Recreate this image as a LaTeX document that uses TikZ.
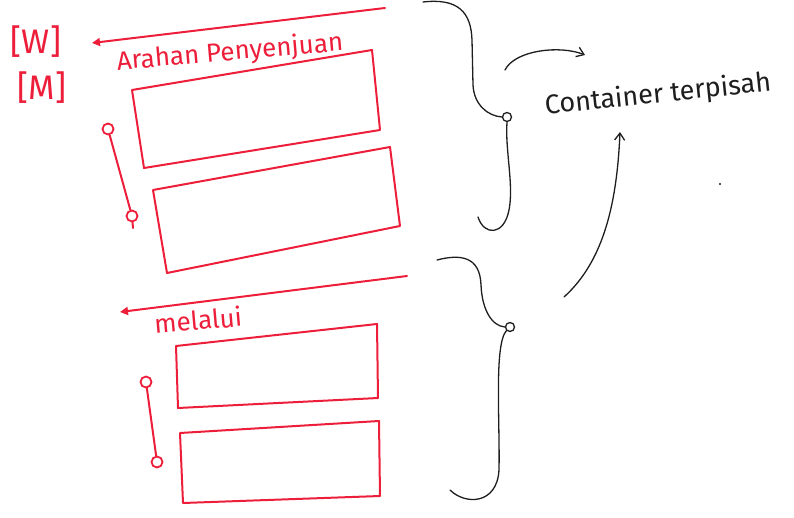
\documentclass[tikz,border=0pt]{standalone}
\usepackage{fontspec}
\setmainfont{Fira Sans}
\usetikzlibrary{arrows.meta}
\definecolor{pen}{RGB}{237,30,58}
\definecolor{ink}{RGB}{30,30,30}
\begin{document}
\begin{tikzpicture}[x=1pt,y=-1pt,
  redline/.style={draw=pen, line width=2pt, line cap=round, line join=round},
  inkline/.style={draw=ink, line width=1.3pt, line cap=round, line join=round},
  redtext/.style={text=pen, font=\fontsize{26}{30}\selectfont, inner sep=0pt},
  inktext/.style={text=ink, font=\fontsize{27}{31}\selectfont, inner sep=0pt},
  ring/.style={circle, draw=pen, line width=1.8pt, minimum size=11pt, inner sep=0pt},
  inkring/.style={circle, draw=ink, line width=1.3pt, minimum size=10pt, inner sep=0pt},
  tipL/.style={{Triangle[length=8pt,width=8pt]}-},
  tipR/.style={-{Straight Barb[length=7pt,width=10pt]}}
]
\useasboundingbox (0,0) rectangle (794,518);

% labels W / M
\node[redtext, font=\fontsize{34}{38}\selectfont] (w) at (36,42) {[W]};
\node[redtext, font=\fontsize{34}{38}\selectfont] (m) at (42,88) {[M]};

% ---- top group ----
\coordinate (l1a) at (92,43);
\coordinate (l1b) at (385,8);
\draw[redline, tipL] (l1a) -- (l1b);
\node[redtext, rotate=5] (t1) at (230,53) {Arahan Penyenjuan};

% box 1
\coordinate (b1tl) at (132,90); \coordinate (b1tr) at (372,50);
\coordinate (b1br) at (380,130); \coordinate (b1bl) at (144,168);
\draw[redline] (b1tl) -- (b1tr) -- (b1br) -- (b1bl) -- cycle;
% box 2
\coordinate (b2tl) at (153,190); \coordinate (b2tr) at (390,147);
\coordinate (b2br) at (400,226); \coordinate (b2bl) at (167,273);
\draw[redline] (b2tl) -- (b2tr) -- (b2br) -- (b2bl) -- cycle;

% connector 1
\node[ring] (r1a) at (108,129) {};
\node[ring] (r1b) at (132,216) {};
\draw[redline] (r1a) -- (r1b);
\coordinate (r1c) at (133,228);
\draw[redline] (r1b) -- (r1c);

% ---- bottom group ----
\coordinate (l2a) at (120,312);
\coordinate (l2b) at (407,276);
\draw[redline, tipL] (l2a) -- (l2b);
\node[redtext, rotate=5] (t2) at (198,320) {melalui};

% box 3
\coordinate (b3tl) at (176,346); \coordinate (b3tr) at (377,324);
\coordinate (b3br) at (378,398); \coordinate (b3bl) at (178,408);
\draw[redline] (b3tl) -- (b3tr) -- (b3br) -- (b3bl) -- cycle;
% box 4
\coordinate (b4tl) at (180,433); \coordinate (b4tr) at (379,421);
\coordinate (b4br) at (380,496); \coordinate (b4bl) at (183,503);
\draw[redline] (b4tl) -- (b4tr) -- (b4br) -- (b4bl) -- cycle;

% connector 2
\node[ring] (r2a) at (146,382) {};
\node[ring] (r2b) at (157,462) {};
\draw[redline] (r2a) -- (r2b);

% ---- braces ----
\node[inkring, minimum size=9pt] (k1) at (507,117) {};
\coordinate (br1top) at (423,2);
\coordinate (br1bot) at (478,217);
\draw[inkline] (br1top) .. controls (458,-2) and (471,12) .. (472,40)
  -- (473,85) .. controls (474,105) and (488,116) .. (k1.west);
\draw[inkline] (k1.south) .. controls (505,150) and (514,185) .. (509,210)
  .. controls (504,236) and (484,236) .. (br1bot);

\node[inkring, minimum size=9pt] (k2) at (510,327) {};
\coordinate (br2top) at (437,260);
\coordinate (br2bot) at (450,490);
\draw[inkline] (br2top) .. controls (460,254) and (480,256) .. (481,285)
  .. controls (482,310) and (492,326) .. (k2.west);
\draw[inkline] (k2.south west) .. controls (494,345) and (500,420) .. (499,470)
  .. controls (497,505) and (465,505) .. (br2bot);

% ---- text and arrows ----
\node[inktext, rotate=6] (ct) at (658,95) {Container terpisah};
\coordinate (a1s) at (505,70);
\coordinate (a1e) at (585,55);
\draw[inkline, tipR] (a1s) .. controls (515,50) and (560,45) .. (a1e);
\coordinate (a2s) at (564,297);
\coordinate (a2e) at (620,132);
\draw[inkline, tipR] (a2s) .. controls (605,260) and (617,200) .. (a2e);

\fill[ink] (720,184) circle (1.2pt);
\end{tikzpicture}
\end{document}
